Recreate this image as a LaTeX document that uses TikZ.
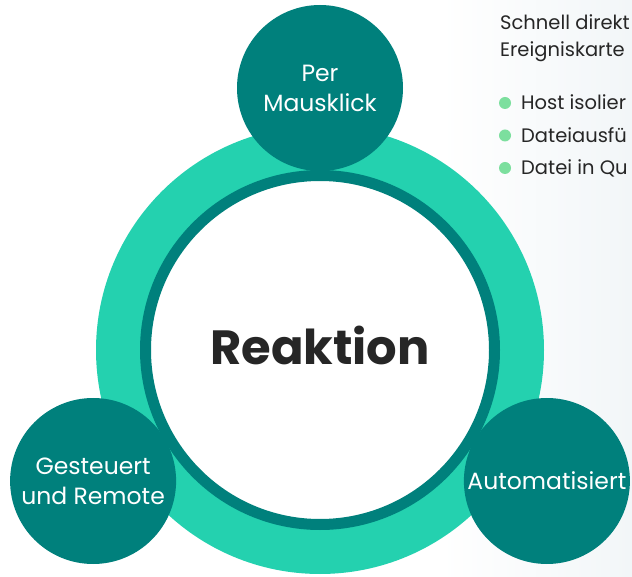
\documentclass[tikz,border=0pt]{standalone}
\usepackage{fontspec}
\setmainfont{Poppins}
\usetikzlibrary{positioning,calc}
\definecolor{kdark}{HTML}{00807C}
\definecolor{kgreen}{HTML}{24D1AF}
\definecolor{kdot}{HTML}{7CDF9E}
\definecolor{kbg}{HTML}{F2F6F8}
\definecolor{ktext}{HTML}{262626}

\begin{document}
\begin{tikzpicture}[x=1pt, y=1pt,
    bubble/.style={circle, fill=kdark, text=white, minimum size=166pt, inner sep=0pt,
      align=center, font=\fontsize{23.5}{30}\selectfont},
    side/.style={anchor=base west, inner sep=0pt, text=ktext, font=\fontsize{19.5}{24}\selectfont}]
      \useasboundingbox (0,0) rectangle (632,576);
      \clip (0,0) rectangle (632,576);
      \shade [left color=white, right color=kbg] (440,0) rectangle (632,576);

      \fill [kgreen] (320,226) circle (224);
      \node (reaktion) [circle, draw=kdark, line width=11pt, fill=white, minimum size=349pt] at (320,226) {};
      \node (titel) [text=ktext, font=\fontsize{48}{60}\selectfont\bfseries] at ($(reaktion)+(0,5)$) {Reaktion};

      \node (per) [bubble] at ($(reaktion)+(90:262)$) {Per\\Mausklick};
      \node (gesteuert) [bubble] at ($(reaktion)+(210:262)$) {Gesteuert\\und Remote};
      \node (auto) [bubble] at ($(reaktion)+(330:262)$) {Automatisiert};

      \node (schnell) [side] at (500,546) {Schnell direkt};
      \node (karte) [side] at (500,519) {Ereigniskarte};
      \foreach \t [count=\i] in {Host isolier, Dateiausfü, Datei in Qu} {
        \fill [kdot] (505,{473-32.5*(\i-1)}) circle (6);
        \node (item\i) [side] at (521,{466-32.5*(\i-1)}) {\t};
      }
    \end{tikzpicture}
\end{document}
